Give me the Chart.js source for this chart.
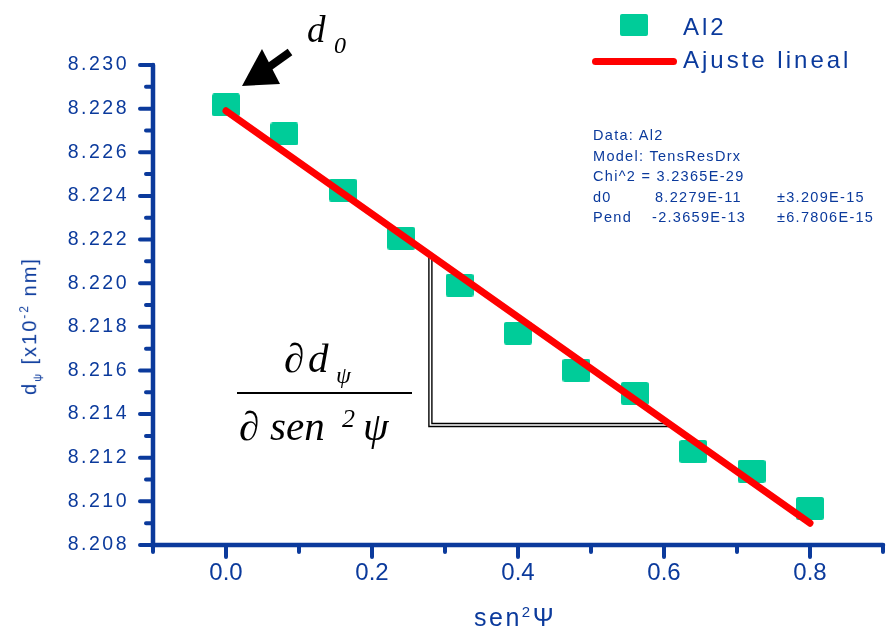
<!DOCTYPE html>
<html>
<head>
<meta charset="utf-8">
<script src="https://cdn.jsdelivr.net/npm/chart.js@4/dist/chart.umd.min.js"></script>
<style>
  body { margin: 0; background: #fff; }
  #wrap { position: relative; width: 888px; height: 631px; overflow: hidden; }
  #wrap div, #wrap span { position: absolute; white-space: nowrap; }
  .blue { color: #0b3a9c; font-family: "Liberation Sans", Arial, sans-serif; }
  .math { font-family: "Liberation Serif", "Times New Roman", serif; font-style: italic; color: #000; line-height: 1; }
  .stats { font-size: 14.5px; line-height: 20.5px; letter-spacing: 1.3px; }
</style>
</head>
<body>
<div id="wrap">
  <canvas id="chart" width="888" height="631"></canvas>

  <!-- legend -->
  <div style="left:620px;top:14px;width:28px;height:22px;background:#00cc99;border-radius:2px"></div>
  <div style="left:592px;top:58px;width:85px;height:7px;background:#ff0000;border-radius:4px"></div>
  <div class="blue" style="left:683px;top:15px;font-size:24px;line-height:24px;letter-spacing:3px">Al2</div>
  <div class="blue" style="left:683px;top:48px;font-size:24px;line-height:24px;letter-spacing:3px">Ajuste lineal</div>

  <!-- fit report -->
  <div class="blue stats" style="left:593px;top:125px">Data: Al2</div>
  <div class="blue stats" style="left:593px;top:145.5px">Model: TensResDrx</div>
  <div class="blue stats" style="left:593px;top:166px">Chi^2 = 3.2365E-29</div>
  <div class="blue stats" style="left:593px;top:186.5px">d0</div>
  <div class="blue stats" style="left:655px;top:186.5px">8.2279E-11</div>
  <div class="blue stats" style="left:777px;top:186.5px">±3.209E-15</div>
  <div class="blue stats" style="left:593px;top:207px">Pend</div>
  <div class="blue stats" style="left:652px;top:207px">-2.3659E-13</div>
  <div class="blue stats" style="left:777px;top:207px">±6.7806E-15</div>

  <!-- axis titles -->
  <div class="blue" style="left:30px;top:326px;font-size:20px;letter-spacing:2px;transform:translate(-50%,-50%) rotate(-90deg)">d<sub style="font-size:11px">ψ</sub> [x10<sup style="font-size:12px">-2</sup> nm]</div>
  <div class="blue" style="left:515px;top:597px;font-size:25px;line-height:30px;letter-spacing:2.5px;transform:translateX(-50%)">sen<sup style="font-size:15px">2</sup>Ψ</div>

  <!-- d0 annotation -->
  <svg width="888" height="631" style="position:absolute;left:0;top:0">
    <line x1="290" y1="52" x2="262" y2="72" stroke="#000" stroke-width="8"/>
    <polygon points="242,86 262,49 280,84" fill="#000"/>
  </svg>
  <div class="math" style="left:307px;top:11px;font-size:37px">d</div>
  <div class="math" style="left:334px;top:33px;font-size:24px">0</div>

  <!-- slope formula -->
  <div class="math" style="left:284px;top:338px;font-size:41px">∂</div>
  <div class="math" style="left:308px;top:338px;font-size:41px">d</div>
  <div class="math" style="left:336px;top:363px;font-size:24px">ψ</div>
  <div style="left:237px;top:392px;width:175px;height:1.5px;background:#000"></div>
  <div class="math" style="left:239px;top:406px;font-size:41px">∂</div>
  <div class="math" style="left:270px;top:406px;font-size:41px">sen</div>
  <div class="math" style="left:342px;top:406px;font-size:26px">2</div>
  <div class="math" style="left:363px;top:406px;font-size:41px">ψ</div>
</div>

<script>
// measured points
const sinPsi = [0, 0.08, 0.16, 0.24, 0.32, 0.40, 0.48, 0.56, 0.64, 0.72, 0.80];
const dPsi = [8.22817, 8.22684, 8.22427, 8.22206, 8.21991, 8.21771, 8.21601, 8.21495, 8.21229, 8.21138, 8.20968];

// linear fit ends
const fitX = [0, 0.8];
const fitY = [8.2279, 8.2090];

// slope triangle corners
const triX = [0.28, 0.28, 0.609];
const triY = [8.2213, 8.2135, 8.2135];

const xTicks = [0.0, 0.2, 0.4, 0.6, 0.8];
const yTicks = [8.208, 8.210, 8.212, 8.214, 8.216, 8.218, 8.220, 8.222, 8.224, 8.226, 8.228, 8.230];

const axisColor = "#0b3a9c";

// rectangle marker
const marker = document.createElement("canvas");
marker.width = 28;
marker.height = 23;
const mctx = marker.getContext("2d");
mctx.fillStyle = "#00cc99";
mctx.beginPath();
mctx.roundRect(0, 0, 28, 23, 2.5);
mctx.fill();

const labelSpacing = { x: "0px", y: "2.5px" };

const axisPlugin = {
  id: "axisPlugin",
  afterLayout: (chart) => {
    ["x", "y"].forEach((id) => {
      const s = chart.scales[id];
      if (s._spaced) return;
      const orig = s.drawLabels;
      s.drawLabels = function (area) {
        const c = this.ctx;
        c.save();
        c.letterSpacing = labelSpacing[id];
        orig.call(this, area);
        c.restore();
      };
      s._spaced = true;
    });
  },
  beforeDatasetsDraw: (chart) => {
    // slope triangle (double line)
    const ctx = chart.ctx;
    const x = chart.scales.x, y = chart.scales.y;
    ctx.save();
    ctx.lineJoin = "miter";
    ctx.beginPath();
    triX.forEach((v, i) => {
      const px = x.getPixelForValue(v), py = y.getPixelForValue(triY[i]);
      if (i === 0) ctx.moveTo(px, py); else ctx.lineTo(px, py);
    });
    ctx.strokeStyle = "#000";
    ctx.lineWidth = 4.4;
    ctx.stroke();
    ctx.strokeStyle = "#fff";
    ctx.lineWidth = 1.6;
    ctx.stroke();
    ctx.restore();
  },
  afterDraw: (chart) => {
    const ctx = chart.ctx;
    const a = chart.chartArea;
    const x = chart.scales.x, y = chart.scales.y;
    ctx.save();
    ctx.strokeStyle = axisColor;
    ctx.lineCap = "round";
    ctx.lineWidth = 4.5;
    ctx.beginPath();
    ctx.moveTo(a.left, a.top);
    ctx.lineTo(a.left, a.bottom + 2);
    ctx.moveTo(a.left, a.bottom);
    ctx.lineTo(a.right, a.bottom);
    ctx.stroke();

    ctx.lineWidth = 4;
    ctx.beginPath();
    yTicks.forEach((v, i) => {
      const py = y.getPixelForValue(v);
      ctx.moveTo(a.left - 13, py);
      ctx.lineTo(a.left, py);
      if (i < yTicks.length - 1) {
        const pm = y.getPixelForValue((v + yTicks[i + 1]) / 2);
        ctx.moveTo(a.left - 7, pm);
        ctx.lineTo(a.left, pm);
      }
    });
    const half = (xTicks[1] - xTicks[0]) / 2;
    xTicks.forEach((v) => {
      const px = x.getPixelForValue(v);
      ctx.moveTo(px, a.bottom);
      ctx.lineTo(px, a.bottom + 12);
      [v - half, v + half].forEach((m) => {
        const pm = x.getPixelForValue(m);
        ctx.moveTo(pm, a.bottom);
        ctx.lineTo(pm, a.bottom + 7);
      });
    });
    ctx.stroke();
    ctx.restore();
  },
};

new Chart(document.getElementById("chart"), {
  type: "scatter",
  data: {
    datasets: [
      {
        label: "Ajuste lineal",
        data: fitX.map((v, i) => ({ x: v, y: fitY[i] })),
        showLine: true,
        borderColor: "#ff0000",
        borderWidth: 7,
        borderCapStyle: "round",
        pointRadius: 0,
        order: 0,
      },
      {
        label: "Al2",
        data: sinPsi.map((v, i) => ({ x: v, y: dPsi[i] })),
        pointStyle: marker,
        pointRadius: 14,
        order: 1,
      },
    ],
  },
  options: {
    responsive: false,
    animation: false,
    layout: { autoPadding: false, padding: { top: 65, right: 5, left: 0, bottom: 0 } },
    scales: {
      x: {
        type: "linear",
        min: -0.1,
        max: 0.9,
        afterBuildTicks: (s) => { s.ticks = xTicks.map((v) => ({ value: v })); },
        afterFit: (s) => { s.height = 86; s.paddingLeft = 0; s.paddingRight = 0; },
        grid: { display: false },
        border: { display: false },
        ticks: {
          color: axisColor,
          padding: 6,
          maxRotation: 0,
          font: { family: "'Liberation Sans', Arial", size: 24 },
          callback: (v) => v.toFixed(1),
        },
      },
      y: {
        min: 8.208,
        max: 8.230,
        afterBuildTicks: (s) => { s.ticks = yTicks.map((v) => ({ value: v })); },
        afterFit: (s) => { s.width = 153; s.paddingTop = 0; s.paddingBottom = 0; },
        grid: { display: false },
        border: { display: false },
        ticks: {
          color: axisColor,
          padding: 16,
          font: { family: "'Liberation Sans', Arial", size: 19.5 },
          callback: (v) => v.toFixed(3),
        },
      },
    },
    plugins: {
      legend: { display: false },
      tooltip: { enabled: false },
    },
  },
  plugins: [axisPlugin],
});
</script>
</body>
</html>
